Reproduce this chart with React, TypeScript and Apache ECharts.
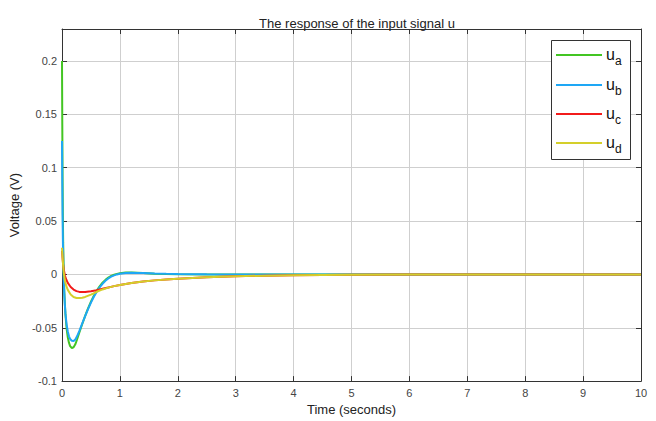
import React, { useEffect, useRef } from "react";
import * as echarts from "echarts";

const titleText = "The response of the input signal u";
const xName = "Time (seconds)";
const yName = "Voltage (V)";

const tA = [0, 0.005, 0.01, 0.015, 0.02, 0.03, 0.04, 0.05, 0.06, 0.08, 0.1, 0.12, 0.14, 0.17, 0.2, 0.23, 0.26, 0.3, 0.35, 0.4, 0.45, 0.5, 0.55, 0.6, 0.65, 0.7, 0.75, 0.8, 0.85, 0.9, 0.95, 1.0, 1.1, 1.2, 1.3, 1.4, 1.6, 1.8, 2.0, 2.5, 3, 4, 5, 6, 7, 8, 9, 10];
const uA = [0.2, 0.14, 0.09, 0.055, 0.03, 0.002, -0.016, -0.028, -0.038, -0.051, -0.059, -0.064, -0.0672, -0.069, -0.0683, -0.0655, -0.061, -0.0545, -0.0465, -0.0388, -0.0318, -0.0255, -0.02, -0.0152, -0.0112, -0.0078, -0.0051, -0.003, -0.0014, -0.0003, 0.0005, 0.0011, 0.0017, 0.0018, 0.0016, 0.0013, 0.0007, 0.0003, 0.0001, 0, 0, 0, 0, 0, 0, 0, 0, 0];

const tB = [0, 0.005, 0.01, 0.015, 0.02, 0.03, 0.04, 0.05, 0.06, 0.08, 0.1, 0.12, 0.14, 0.17, 0.2, 0.23, 0.26, 0.3, 0.35, 0.4, 0.45, 0.5, 0.55, 0.6, 0.65, 0.7, 0.75, 0.8, 0.85, 0.9, 0.95, 1.0, 1.1, 1.2, 1.3, 1.4, 1.6, 1.8, 2.0, 2.5, 3, 4, 5, 6, 7, 8, 9, 10];
const uB = [0.125, 0.085, 0.055, 0.033, 0.017, -0.005, -0.019, -0.029, -0.037, -0.047, -0.0535, -0.058, -0.0605, -0.0622, -0.0625, -0.061, -0.058, -0.053, -0.046, -0.039, -0.0325, -0.0265, -0.021, -0.0162, -0.0122, -0.0088, -0.006, -0.0038, -0.0021, -0.0009, 0, 0.0006, 0.0013, 0.0015, 0.0014, 0.0012, 0.0008, 0.0005, 0.0003, 0.0001, 0, 0, 0, 0, 0, 0, 0, 0];

const tC = [0, 0.01, 0.02, 0.03, 0.05, 0.075, 0.1, 0.15, 0.2, 0.25, 0.3, 0.35, 0.4, 0.5, 0.6, 0.7, 0.8, 0.9, 1.0, 1.2, 1.4, 1.6, 1.8, 2.0, 2.5, 3.0, 3.5, 4, 4.5, 5, 6, 7, 8, 9, 10];
const uC = [0.022, 0.015, 0.009, 0.005, -0.001, -0.005, -0.008, -0.0118, -0.0142, -0.0157, -0.0164, -0.0166, -0.0165, -0.0158, -0.0148, -0.0135, -0.0122, -0.011, -0.0099, -0.0081, -0.0067, -0.0056, -0.0047, -0.004, -0.0027, -0.0018, -0.0012, -0.0007, -0.0005, -0.0003, -0.0001, 0, 0, 0, 0];

const tD = [0, 0.01, 0.02, 0.03, 0.05, 0.075, 0.1, 0.15, 0.2, 0.25, 0.3, 0.35, 0.4, 0.5, 0.6, 0.7, 0.8, 0.9, 1.0, 1.2, 1.4, 1.6, 1.8, 2.0, 2.5, 3.0, 3.5, 4, 4.5, 5, 6, 7, 8, 9, 10];
const uD = [0.025, 0.016, 0.008, 0.002, -0.006, -0.011, -0.0145, -0.0188, -0.0212, -0.0221, -0.0222, -0.0218, -0.0211, -0.0189, -0.0163, -0.0141, -0.0124, -0.011, -0.0099, -0.0081, -0.0067, -0.0056, -0.0047, -0.004, -0.0027, -0.0018, -0.0012, -0.0007, -0.0005, -0.0003, -0.0001, 0, 0, 0, 0];

const legendSubs = ["a", "b", "c", "d"];
const colors = ["#43c523", "#1ea7f5", "#f21b1b", "#d4cf2a"];

const zip = (t: number[], v: number[]) => t.map((x, i) => [x, v[i]]);

export default function App() {
  const ref = useRef<HTMLDivElement>(null);
  useEffect(() => {
    if (!ref.current) return;
    const chart = echarts.init(ref.current, undefined, { renderer: "svg" });
    const font = "Liberation Sans, Arial, sans-serif";
    const datasets = [zip(tA, uA), zip(tB, uB), zip(tC, uC), zip(tD, uD)];
    const legendX0 = 551, legendY0 = 40;
    const rows = [55, 85, 114, 143];
    const legendEls: any[] = [
      {
        type: "rect",
        shape: { x: legendX0 + 0.5, y: legendY0 + 0.5, width: 79, height: 119 },
        style: { fill: "#fff", stroke: "#333", lineWidth: 1 },
        z: 100,
      },
    ];
    rows.forEach((y, i) => {
      legendEls.push({
        type: "line",
        shape: { x1: 556, y1: y, x2: 602, y2: y },
        style: { stroke: colors[i], lineWidth: 2 },
        z: 101,
      });
      legendEls.push({
        type: "text",
        x: 606,
        y: y - 1,
        style: { text: "u", font: `16px ${font}`, fill: "#111", verticalAlign: "middle" },
        z: 101,
      });
      legendEls.push({
        type: "text",
        x: 615,
        y: y + 6,
        style: { text: legendSubs[i], font: `12px ${font}`, fill: "#111", verticalAlign: "middle" },
        z: 101,
      });
    });
    chart.setOption({
      animation: false,
      backgroundColor: "#fff",
      textStyle: { fontFamily: font },
      title: {
        text: titleText,
        left: 352,
        textAlign: "center",
        top: 12,
        textStyle: { fontSize: 13, fontWeight: "normal", color: "#222", fontFamily: font },
      },
      grid: { left: 62, right: 15, top: 29, bottom: 36 },
      xAxis: [
        {
          type: "value",
          min: 0,
          max: 10,
          interval: 1,
          position: "bottom",
          name: xName,
          nameLocation: "middle",
          nameGap: 19,
          nameTextStyle: { fontSize: 13, color: "#222", fontFamily: font },
          axisLine: { onZero: false, lineStyle: { color: "#333", width: 1 } },
          axisTick: { inside: true, length: 5, lineStyle: { color: "#333" } },
          axisLabel: { fontSize: 11, color: "#444", margin: 6, fontFamily: font },
          splitLine: { show: true, lineStyle: { color: "#cfcfcf", width: 1 } },
        },
        {
          type: "value",
          min: 0,
          max: 10,
          interval: 1,
          position: "top",
          axisLine: { onZero: false, lineStyle: { color: "#333", width: 1 } },
          axisTick: { inside: true, length: 5, lineStyle: { color: "#333" } },
          axisLabel: { show: false },
          splitLine: { show: false },
        },
      ],
      yAxis: [
        {
          type: "value",
          min: -0.1,
          max: 0.23,
          interval: 0.05,
          position: "left",
          name: yName,
          nameLocation: "middle",
          nameGap: 36,
          nameTextStyle: { fontSize: 13, color: "#222", fontFamily: font },
          axisLine: { onZero: false, lineStyle: { color: "#333", width: 1 } },
          axisTick: { inside: true, length: 5, lineStyle: { color: "#333" } },
          axisLabel: {
            fontSize: 11,
            color: "#444",
            margin: 5,
            fontFamily: font,
            formatter: (v: number) => (v > 0.21 ? "" : String(parseFloat(v.toFixed(2)))),
          },
          splitLine: { show: true, lineStyle: { color: "#cfcfcf", width: 1 } },
        },
        {
          type: "value",
          min: -0.1,
          max: 0.23,
          interval: 0.05,
          position: "right",
          axisLine: { onZero: false, lineStyle: { color: "#333", width: 1 } },
          axisTick: { inside: true, length: 5, lineStyle: { color: "#333" } },
          axisLabel: { show: false },
          splitLine: { show: false },
        },
      ],
      series: datasets.map((d, i) => ({
        type: "line",
        name: "u" + legendSubs[i],
        xAxisIndex: 0,
        yAxisIndex: 0,
        data: d,
        showSymbol: false,
        smooth: false,
        lineStyle: { color: colors[i], width: 2 },
        itemStyle: { color: colors[i] },
        z: 2 + i,
      })),
      graphic: legendEls,
    });
    return () => chart.dispose();
  }, []);
  return (
    <div
      ref={ref}
      style={{ position: "absolute", left: 0, top: 0, width: 656, height: 421 }}
    />
  );
}
